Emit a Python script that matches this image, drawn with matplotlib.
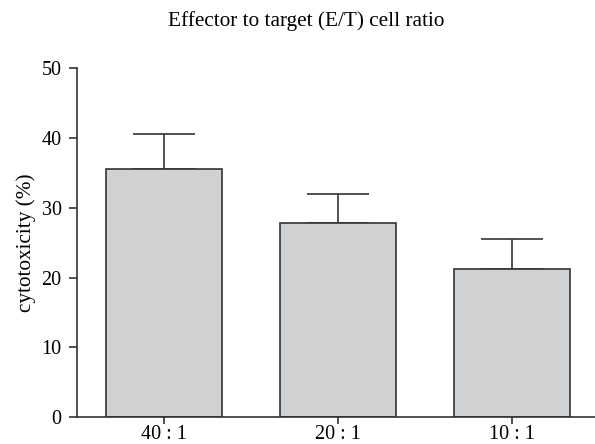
import numpy as np
import matplotlib.pyplot as plt

plt.rcParams['font.family'] = ['Liberation Serif', 'DejaVu Serif']

# данные
ratios = ['40 : 1', '20 : 1', '10 : 1']
cytotox = [35.5, 27.8, 21.2]
err = [5.1, 4.2, 4.3]

fig = plt.figure(figsize=(5.95, 4.44), dpi=100)
ax = fig.add_axes([0.1294, 0.0606, 0.877, 0.786])

x = np.arange(len(ratios))
ax.bar(x, cytotox, width=0.67, color='#d0d1d3', edgecolor='#333333', linewidth=1.2, zorder=2)
# только верхние усы
ax.errorbar(x, cytotox, yerr=[np.zeros(len(err)), err], fmt='none', ecolor='#333333',
            elinewidth=1.2, capthick=1.2, capsize=22, zorder=1)

ax.set_xlim(-0.5, 2.5)
ax.set_ylim(0, 50)
ax.set_yticks([0, 10, 20, 30, 40, 50])
ax.set_xticks(x)
ax.set_xticklabels(ratios, fontsize=14.5)
ax.tick_params(axis='y', labelsize=14.5, length=6, width=1.2, color='#333333', pad=5)
ax.tick_params(axis='x', length=5, width=1.2, color='#333333', pad=1)
ax.set_ylabel('cytotoxicity (%)', fontsize=15.3)
ax.yaxis.set_label_coords(-0.079, 0.5)

for s in ['top', 'right']:
    ax.spines[s].set_visible(False)
for s in ['left', 'bottom']:
    ax.spines[s].set_linewidth(1.2)
    ax.spines[s].set_color('#333333')

fig.text(0.515, 0.953, 'Effector to target (E/T) cell ratio', ha='center', va='center', fontsize=15.3)

plt.savefig('out.png', dpi=100)
